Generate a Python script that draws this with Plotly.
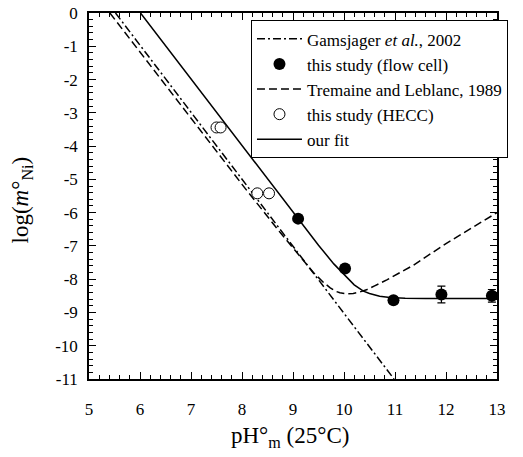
import plotly.graph_objects as go

# Gamsjager et al., 2002 (dash-dot)
gam_x = [5.52, 10.98]
gam_y = [0.0, -11.0]

# Tremaine and Leblanc, 1989 (dashed)
tre_x = [5.41, 8.0, 8.75, 9.2, 9.4, 9.6, 9.73, 9.85, 9.92, 10.05, 10.18, 10.3, 10.44, 10.6, 10.84, 11.36, 12.0, 13.0]
tre_y = [0.0, -5.15, -6.6, -7.45, -7.8, -8.1, -8.26, -8.37, -8.41, -8.44, -8.43, -8.39, -8.32, -8.2, -8.02, -7.58, -6.93, -6.0]

# our fit (solid)
fit_x = [6.01, 9.0, 9.5, 9.8, 10.02, 10.2, 10.38, 10.5, 10.7, 10.9, 11.2, 11.6, 13.0]
fit_y = [0.0, -5.98, -6.98, -7.54, -7.88, -8.17, -8.36, -8.43, -8.51, -8.55, -8.57, -8.58, -8.58]

# this study (flow cell)
flow_x = [9.10, 10.02, 10.97, 11.91, 12.90]
flow_y = [-6.18, -7.68, -8.63, -8.46, -8.50]
flow_err = [0.1, 0.1, 0.1, 0.25, 0.19]

# this study (HECC)
hecc_x = [7.50, 7.58, 8.30, 8.53]
hecc_y = [-3.44, -3.44, -5.42, -5.42]

# tick labels (hyphen minus as in the reference)
x_ticks = [5, 6, 7, 8, 9, 10, 11, 12, 13]
x_ticktext = ["5", "6", "7", "8", "9", "10", "11", "12", "13"]
y_ticks = [0, -1, -2, -3, -4, -5, -6, -7, -8, -9, -10, -11]
y_ticktext = ["0", "-1", "-2", "-3", "-4", "-5", "-6", "-7", "-8", "-9", "-10", "-11"]

FONT = "Liberation Serif"

fig = go.Figure()
fig.add_trace(go.Scatter(x=gam_x, y=gam_y, mode="lines", name="Gamsjager <i>et al.</i>, 2002",
                         line=dict(color="black", width=1.5, dash="8px,3px,2px,3px")))
fig.add_trace(go.Scatter(x=flow_x, y=flow_y, mode="markers", name="this study (flow cell)",
                         marker=dict(color="black", size=12, symbol="circle"),
                         error_y=dict(type="data", array=flow_err, color="black", thickness=1.2, width=4)))
fig.add_trace(go.Scatter(x=tre_x, y=tre_y, mode="lines", name="Tremaine and Leblanc, 1989",
                         line=dict(color="black", width=1.5, dash="8px,4px")))
fig.add_trace(go.Scatter(x=hecc_x, y=hecc_y, mode="markers", name="this study (HECC)",
                         marker=dict(color="white", size=11, symbol="circle",
                                     line=dict(color="black", width=1))))
fig.add_trace(go.Scatter(x=fit_x, y=fit_y, mode="lines", name="our fit",
                         line=dict(color="black", width=1.5)))

axis_common = dict(showline=True, linecolor="black", linewidth=1.5, mirror="allticks",
                   ticks="inside", ticklen=7, tickwidth=1.2, tickcolor="black",
                   showgrid=False, zeroline=False, automargin=False,
                   tickfont=dict(family=FONT, size=17, color="black"),
                   minor=dict(ticks="inside", ticklen=4, tickwidth=1, tickcolor="black",
                              dtick=0.2, showgrid=False))

fig.update_xaxes(range=[5, 13], tickmode="array", tickvals=x_ticks, ticktext=x_ticktext,
                 ticklabelstandoff=14, **axis_common)
fig.update_yaxes(range=[-11, 0], tickmode="array", tickvals=y_ticks, ticktext=y_ticktext,
                 ticklabelstandoff=6, **axis_common)

fig.add_annotation(text="pH°<sub>m</sub> (25°C)", xref="paper", yref="paper",
                   x=0.493, y=-0.158, xanchor="center", yanchor="middle", showarrow=False,
                   font=dict(family=FONT, size=23, color="black"))
fig.add_annotation(text="log(<i>m</i>°<sub>Ni</sub>)", xref="paper", yref="paper",
                   x=-0.164, y=0.488, xanchor="center", yanchor="middle", showarrow=False,
                   textangle=-90, font=dict(family=FONT, size=23, color="black"))

fig.update_layout(
    width=523, height=457, autosize=False,
    margin=dict(l=89, r=26, t=12.5, b=78),
    plot_bgcolor="white", paper_bgcolor="white",
    font=dict(family=FONT, size=16, color="black"),
    showlegend=True,
    legend=dict(x=0.397, y=0.98, xanchor="left", yanchor="top",
                bgcolor="white", bordercolor="black", borderwidth=1,
                font=dict(family=FONT, size=17, color="black"),
                itemwidth=45, tracegroupgap=0),
)

fig.write_html("out.html",
               config={"displayModeBar": False, "responsive": False},
               post_script="document.body.style.margin='0';document.body.style.overflow='hidden';")
